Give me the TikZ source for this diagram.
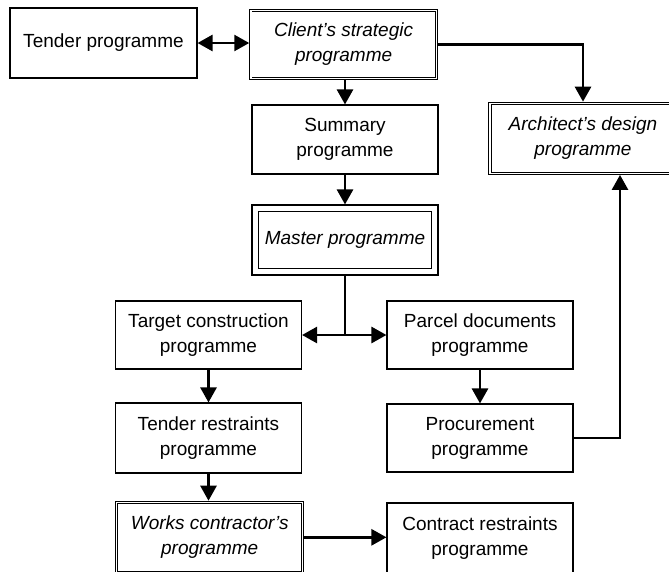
\documentclass[tikz,border=0pt]{standalone}
\usepackage{fontspec}
\setmainfont{Liberation Sans}
\usetikzlibrary{arrows.meta}

\tikzset{
	box/.style={draw, line width=1.1pt, minimum width=186pt, minimum height=69pt, inner sep=0pt, align=center, font=\fontsize{19}{25}\selectfont},
	dbox/.style={box, double, double distance=1.4pt, line width=0.9pt, outer sep=1.6pt, font=\fontsize{19}{25}\selectfont\itshape},
	arr/.style={-{Triangle[length=15pt,width=16pt]}, line width=2.6pt},
	darr/.style={{Triangle[length=15pt,width=16pt]}-{Triangle[length=15pt,width=16pt]}, line width=2.6pt}
}

\begin{document}
\begin{tikzpicture}[x=1pt,y=-1pt]
		\def\gap{7} % distance of the inner frame
		
		\useasboundingbox (0,0) rectangle (669,571);
		
		% top row
		\node[box, minimum width=187pt, minimum height=70pt] (tender) at (103.5,43) {Tender programme};
		\node[dbox, minimum width=185.5pt, minimum height=68pt] (client) at (343.6,44.3) {Client's strategic\\programme};
		\node[box] (summary) at (345,139.5) {Summary\\programme};
		\node[dbox, minimum width=186pt, minimum height=70pt] (arch) at (583,138.3) {Architect's design\\programme};
		
		% master programme with its inner frame
		\node[box, minimum height=70pt, font=\fontsize{19}{25}\selectfont\itshape] (master) at (345,240) {Master programme};
		\draw[line width=1.1pt] ([shift={(\gap,\gap)}]master.north west) rectangle ([shift={(-\gap,-\gap)}]master.south east);
		
		% left and right columns
		\node[box, minimum height=68pt] (target) at (208.5,335) {Target construction\\programme};
		\node[box, minimum height=68pt] (parcel) at (480,335) {Parcel documents\\programme};
		\node[box, minimum height=70pt] (restraints) at (208.5,438) {Tender restraints\\programme};
		\node[box, minimum height=68pt] (procure) at (480,438) {Procurement\\programme};
		\node[dbox, minimum width=186pt, minimum height=70pt] (works) at (209.7,537.3) {Works contractor's\\programme};
		\node[box, minimum height=70pt] (contract) at (480,538) {Contract restraints\\programme};
		
		\draw[darr] (tender.east) -- (tender.east -| client.west);
		\draw[arr] (summary.north |- client.south) -- (summary.north);
		\draw[arr] (client.east) -| (arch.north);
		\draw[arr] (summary.south) -- (master.north);
		
		\coordinate (split) at (master.south |- target.east);
		\draw[line width=2.6pt] (master.south) -- (split);
		\draw[arr] (split) -- (target.east);
		\draw[arr] (split) -- (parcel.west);
		
		\draw[arr] (target.south) -- (restraints.north);
		\draw[arr] (parcel.south) -- (procure.north);
		\draw[arr] (restraints.south) -- (restraints.south |- works.north);
		\draw[arr] (works.east) -- (works.east -| contract.west);
		\draw[arr] (procure.east) -| ([xshift=37pt]arch.south);
		
	\end{tikzpicture}
\end{document}
